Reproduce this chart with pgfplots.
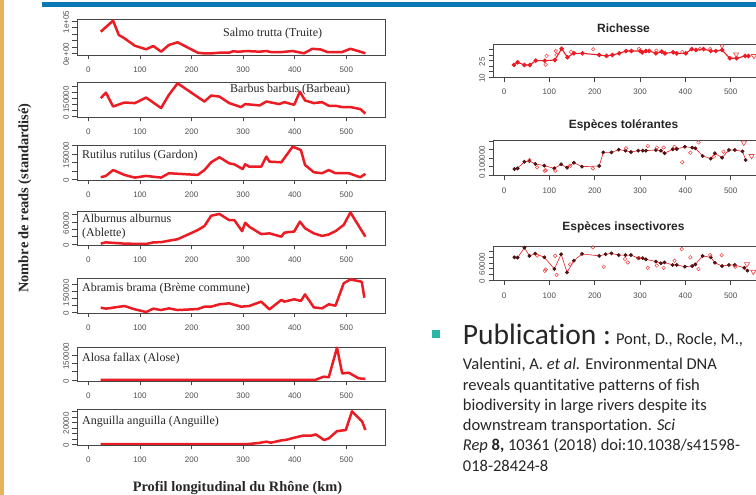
\documentclass[border=0pt]{standalone}
\usepackage{pgfplots}
\pgfplotsset{compat=1.18}
\usepackage{fontspec}
\setmainfont{Liberation Serif}
\newfontfamily\arial{Liberation Sans}
\newfontfamily\calibri[Ligatures=NoCommon]{Carlito}
\definecolor{rline}{RGB}{236,28,36}
\definecolor{framec}{RGB}{70,70,70}
\definecolor{tickc}{RGB}{80,80,80}
\definecolor{stripe}{RGB}{230,180,95}
\definecolor{topbar}{RGB}{10,120,180}
\definecolor{tealc}{RGB}{42,183,170}
\definecolor{darkpt}{RGB}{90,20,20}
\definecolor{ocirc}{RGB}{245,60,60}
\definecolor{txt}{RGB}{38,38,38}
\pgfplotsset{
 rbase/.style={
  scale only axis, anchor=south west,
  axis line style={framec, line width=0.7pt},
  tick style={framec, line width=0.6pt},
  tick align=outside, tick pos=left,
  major tick length=4.5pt,
  scaled ticks=false,
  /pgf/number format/assume math mode=true,
  ticklabel style={font=\arial\fontsize{8}{9}\selectfont, text=tickc},
  xtick={0,100,200,300,400,500},
  xticklabels={0,100,200,300,400,500},
  xticklabel style={anchor=north, yshift=-4pt},
  yticklabel style={rotate=90, anchor=south, xshift=-1pt},
 },
 lp/.style={rbase, xmin=-22, xmax=575, width=308pt},
 lline/.style={rline, line width=2.5pt, line join=round, mark=none},
 rp/.style={rbase, xmin=-24.3, xmax=575, width=271.7pt},
}
\begin{document}
\begin{tikzpicture}[x=1pt,y=1pt]
\path[use as bounding box] (0pt,0pt) rectangle (756pt,495pt);
\clip (0pt,0pt) rectangle (756pt,495pt);
\fill[white] (0pt,0pt) rectangle (756pt,495pt);
\fill[stripe] (0pt,0pt) rectangle (3.5pt,495pt);
\fill[topbar] (42pt,487.7pt) rectangle (756pt,493.3pt);

% ---------- Left panel ----------
\begin{axis}[lp, at={(77pt,440pt)}, height=36pt, ymin=-5260, ymax=106200,
  ytick={0,20000,40000,60000,80000,100000}, yticklabels={0e+00,{},{},{},{},1e+05}]
\addplot[lline] coordinates {(24,66900)(48,101000)(59,56700)(70,46400)(90,23500)(112,12400)(126,22600)(141,5000)(156,25700)(173,34000)(212,1900)(222,0)(241,0)(254,1900)(273,1900)(280,6000)(293,5000)(306,7000)(319,6000)(332,5000)(345,7000)(354,4000)(376,4000)(396,7000)(418,0)(434,14000)(450,12000)(463,4000)(492,4000)(508,14000)(527,5000)(537,0)};
\end{axis}

\begin{axis}[lp, at={(77pt,378pt)}, height=35pt, ymin=-3000, ymax=287000,
  ytick={0,50000,100000,150000,200000,250000}, yticklabels={0,{},{},150000,{},{}}]
\addplot[lline] coordinates {(24,153000)(34,199000)(48,84000)(70,117000)(90,112000)(112,158000)(141,71000)(156,180000)(173,276000)(225,125000)(238,175000)(254,166000)(273,112000)(296,79000)(304,104000)(332,93000)(345,125000)(370,104000)(380,120000)(399,98000)(410,207000)(420,134000)(437,112000)(453,120000)(466,90000)(479,90000)(492,79000)(508,79000)(527,63000)(537,25000)};
\end{axis}

\begin{axis}[lp, at={(77pt,315pt)}, height=35pt, ymin=-4200, ymax=204000,
  ytick={0,50000,100000,150000,200000}, yticklabels={0,{},{},150000,{}}]
\addplot[lline] coordinates {(24,12000)(34,20000)(48,55000)(70,26000)(90,10000)(112,20000)(141,10000)(156,36000)(212,26000)(225,55000)(238,101000)(254,131000)(273,95000)(283,89000)(299,61000)(304,89000)(312,75000)(335,75000)(345,135000)(351,105000)(374,101000)(396,194000)(412,174000)(420,85000)(437,42000)(453,36000)(466,55000)(479,36000)(505,36000)(527,12000)(537,32000)};
\end{axis}

\begin{axis}[lp, at={(77pt,250pt)}, height=34pt, ymin=-2700, ymax=90000,
  ytick={0,20000,40000,60000,80000}, yticklabels={0,{},{},60000,{}}]
\addplot[lline] coordinates {(24,1000)(34,4500)(70,1000)(112,0)(126,4500)(141,5000)(156,9000)(173,13000)(212,38000)(225,49000)(238,77000)(254,82000)(273,65000)(283,65000)(298,35000)(304,58000)(312,47000)(335,27000)(351,29000)(374,20000)(380,31000)(399,34000)(410,61000)(420,43000)(437,29000)(453,22000)(466,26000)(479,35000)(495,52000)(508,86000)(537,20000)};
\end{axis}

\begin{axis}[lp, at={(77pt,182pt)}, height=35pt, ymin=-2100, ymax=248000,
  ytick={0,50000,100000,150000,200000}, yticklabels={0,{},{},150000,{}}]
\addplot[lline] coordinates {(24,36000)(34,29000)(48,36000)(70,48000)(90,24000)(112,5000)(126,29000)(141,19000)(156,31000)(173,19000)(212,26000)(225,43000)(238,43000)(254,60000)(273,67000)(296,43000)(312,48000)(335,79000)(351,24000)(374,91000)(380,79000)(399,96000)(412,84000)(420,131000)(437,38000)(453,31000)(466,60000)(479,50000)(495,210000)(508,238000)(530,221000)(535,107000)};
\end{axis}

\begin{axis}[lp, at={(77pt,114pt)}, height=34pt, ymin=-6000, ymax=200000,
  ytick={0,50000,100000,150000}, yticklabels={0,{},{},150000}]
\addplot[lline] coordinates {(24,500)(48,500)(90,500)(141,500)(212,500)(254,500)(304,500)(345,500)(380,500)(420,500)(440,500)(456,20000)(466,17000)(482,196000)(492,40000)(505,44000)(524,10000)(537,7000)};
\end{axis}

\begin{axis}[lp, at={(77pt,50pt)}, height=36pt, ymin=-600, ymax=32100,
  ytick={0,5000,10000,15000,20000,25000,30000}, yticklabels={0,{},{},{},20000,{},{}}]
\addplot[lline] coordinates {(24,300)(100,300)(200,300)(310,300)(330,1200)(345,2400)(354,1500)(374,3600)(383,4000)(399,6000)(415,7800)(431,7800)(441,9000)(457,3900)(466,5400)(482,12000)(499,13000)(511,30000)(531,20500)(537,13000)};
\end{axis}

\begin{scope}[every node/.style={font=\fontsize{12}{13}\selectfont, text=black!85, anchor=base west, inner sep=0pt}]
\node at (223pt,458.3pt) {Salmo trutta (Truite)};
\node at (230pt,402pt) {Barbus barbus (Barbeau)};
\node at (82pt,336pt) {Rutilus rutilus (Gardon)};
\node at (82pt,272pt) {Alburnus alburnus};
\node at (82pt,258pt) {(Ablette)};
\node at (82pt,203.3pt) {Abramis brama (Brème commune)};
\node at (82pt,133pt) {Alosa fallax (Alose)};
\node at (82pt,70pt) {Anguilla anguilla (Anguille)};
\end{scope}
\node[font=\bfseries\fontsize{14.4}{15}\selectfont, rotate=90, text=black!85] at (25pt,297pt) {Nombre de reads (standardisé)};
\node[font=\bfseries\fontsize{14.4}{15}\selectfont, anchor=base, text=black!85] at (237.5pt,3pt) {Profil longitudinal du Rhône (km)};

% ---------- Right panel ----------
\begin{axis}[rp, at={(493pt,417.7pt)}, height=33pt, ymin=10, ymax=40,
  ytick={10,15,20,25,30,35}, yticklabels={10,{},{},25,{},{}}]
\addplot[rline, line width=1.1pt, mark=*, mark size=1.7pt, mark options={solid, fill=rline, draw=rline}] coordinates {(22,21.2)(30,23.6)(45,21.2)(57,21.2)(70,25.1)(90,25.1)(112,25.7)(127,36)(140,28.2)(154,31.8)(173,31.8)(210,30.3)(226,29.4)(239,30.3)(254,31.8)(269,33.9)(281,33.9)(300,33.9)(305,32.7)(313,33.9)(320,33.9)(335,31.8)(348,33.3)(355,31.8)(373,32.7)(381,31.8)(401,31.8)(414,35.7)(423,34.8)(440,35.7)(456,33.9)(467,33.9)(481,34.8)(498,27.3)(513,27.3)(532,29.4)(539,29.4)};
\addplot[only marks, mark=o, mark size=1.8pt, mark options={ocirc, line width=0.5pt}] coordinates {(94,29.4)(92,21.5)(114,33.9)(116,30.3)(148,33.0)(197,35.5)(298,35.7)(320,34.2)(336,34.2)(393,33)(432,35.7)(455,35.7)(481,38.5)};
\addplot[only marks, mark=triangle, mark size=3pt, mark options={ocirc, line width=0.6pt, rotate=180}] coordinates {(512,30.9)(551,29.4)};
\end{axis}

\begin{axis}[rp, at={(493pt,319.3pt)}, height=35.7pt, ymin=-4100, ymax=205900,
  ytick={0,50000,100000,150000,200000}, yticklabels={0,{},100000,{},{}}]
\addplot[rline, line width=0.6pt, mark=*, mark size=1.6pt, mark options={solid, fill=darkpt, draw=darkpt!80!black}] coordinates {(23,35000)(30,39000)(45,78000)(56,82000)(69,65000)(89,55000)(111,39000)(126,63000)(139,43000)(154,72000)(172,49000)(210,53000)(219,133000)(237,133000)(253,149000)(268,143000)(280,135000)(296,143000)(306,143000)(313,143000)(335,147000)(346,143000)(354,128000)(372,151000)(381,153000)(399,166000)(415,161000)(422,157000)(438,112000)(456,96000)(465,128000)(481,102000)(496,147000)(509,147000)(526,139000)(533,88000)};
\addplot[only marks, mark=o, mark size=1.8pt, mark options={ocirc, line width=0.5pt}] coordinates {(73,45000)(90,25000)(92,28000)(113,25000)(146,55000)(196,39000)(393,75000)(411,131000)(463,108000)(484,137000)(56,88000)(269,157000)(317,171000)(337,161000)(352,161000)(376,166000)(429,192000)};
\addplot[only marks, mark=triangle, mark size=3pt, mark options={ocirc, line width=0.6pt, rotate=180}] coordinates {(529,190000)(546,112000)};
\end{axis}

\begin{axis}[rp, at={(493pt,214.3pt)}, height=34pt, ymin=-2500, ymax=117500,
  ytick={0,20000,40000,60000,80000,100000}, yticklabels={0,{},{},60000,{},{}}]
\addplot[rline, line width=0.6pt, mark=*, mark size=1.6pt, mark options={solid, fill=darkpt, draw=darkpt!80!black}] coordinates {(23,80000)(30,79000)(45,114000)(56,85000)(69,93000)(89,80000)(111,39000)(126,91000)(139,27000)(154,68000)(172,92000)(210,85000)(224,91000)(237,94000)(253,88000)(268,88000)(280,88000)(296,77000)(306,77000)(313,73000)(335,65000)(346,59000)(354,62000)(372,53000)(381,53000)(399,47000)(415,49000)(422,55000)(438,85000)(456,80000)(465,61000)(481,49000)(496,53000)(509,53000)(530,43000)(537,33000)};
\addplot[only marks, mark=o, mark size=1.8pt, mark options={ocirc, line width=0.5pt}] coordinates {(73,86000)(90,32000)(92,37000)(113,85000)(116,18000)(146,55000)(196,115000)(220,47000)(267,74000)(273,62000)(298,77000)(317,43000)(337,51000)(352,43000)(376,68000)(392,109000)(411,80000)(429,39000)(455,88000)(480,88000)(510,47000)};
\addplot[only marks, mark=triangle, mark size=3pt, mark options={ocirc, line width=0.6pt, rotate=180}] coordinates {(536,56000)(550,29000)};
\end{axis}

\begin{scope}[every node/.style={font=\arial\bfseries\fontsize{12}{13}\selectfont, text=black!85}]
\node at (623.5pt,466.7pt) {Richesse};
\node at (623.5pt,370pt) {Espèces tolérantes};
\node at (623.5pt,267.3pt) {Espèces insectivores};
\end{scope}

% ---------- Publication text ----------
\fill[tealc] (432pt,157pt) rectangle (440pt,165pt);
\begin{scope}[every node/.style={anchor=base west, inner sep=0pt, text=txt, font=\calibri\fontsize{16.5}{20}\selectfont}]
\node at (462.7pt,150pt) {{\fontsize{29.5}{31}\selectfont Publication :} Pont, D., Rocle, M.,};
\node at (462.7pt,125pt) {Valentini, A. \textit{et al.} Environmental DNA};
\node at (462.7pt,104.7pt) {reveals quantitative patterns of fish};
\node at (462.7pt,84.5pt) {biodiversity in large rivers despite its};
\node at (462.7pt,64.2pt) {downstream transportation. \textit{Sci}};
\node at (462.7pt,44pt) {\textit{Rep} \textbf{8,} 10361 (2018) doi:10.1038/s41598-};
\node at (462.7pt,23.7pt) {018-28424-8};
\end{scope}
\end{tikzpicture}
\end{document}
